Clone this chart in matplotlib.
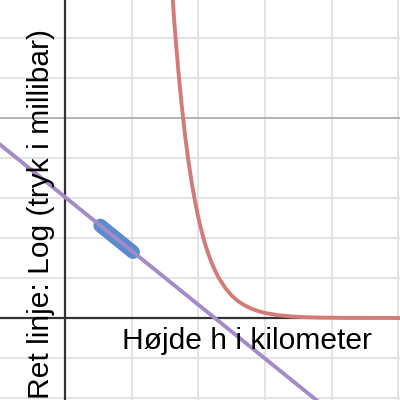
import matplotlib
matplotlib.use("Agg")
import matplotlib.pyplot as plt

# Red curve: pressure vs height
red_x = [1.60, 1.65, 1.70, 1.75, 1.80, 1.85, 1.90, 1.95, 2.00, 2.05, 2.10,
         2.15, 2.20, 2.25, 2.30, 2.40, 2.50, 2.60, 2.70, 2.80, 2.90, 3.00,
         3.20, 3.40, 3.60, 3.80, 4.20, 5.10]
red_y = [8.33, 7.17, 6.18, 5.32, 4.58, 3.94, 3.39, 2.92, 2.51, 2.16, 1.86,
         1.60, 1.38, 1.19, 1.02, 0.76, 0.56, 0.415, 0.31, 0.23, 0.17, 0.125,
         0.069, 0.038, 0.021, 0.011, 0.003, 0.0002]

# Purple straight line (log of pressure)
line_x = [-1.0, 4.0]
line_y = [4.37, -2.36]

# Blue highlighted segment on the line
seg_x = [0.53, 1.02]
seg_y = [2.31, 1.65]

x_label = "Højde h i kilometer"
y_label = "Ret linje: Log (tryk i millibar)"

fig = plt.figure(figsize=(4, 4), dpi=100)
ax = fig.add_axes([0, 0, 1, 1])
ax.set_xlim(-0.975, 5.025)
ax.set_ylim(-2.05, 7.95)
for s in ax.spines.values():
    s.set_visible(False)
ax.set_xticks([])
ax.set_yticks([])

grid_c = "#e2e2e2"
for gx in range(-1, 6):
    if gx != 0:
        ax.axvline(gx, color=grid_c, lw=1.3, zorder=0)
for gy in range(-2, 8):
    if gy not in (0, 5):
        ax.axhline(gy, color=grid_c, lw=1.3, zorder=0)
ax.axhline(5, color="#b3b3b3", lw=1.4, zorder=0.5)
ax.axhline(0, color="#333333", lw=1.6, zorder=1)
ax.axvline(0, color="#333333", lw=1.6, zorder=1)

ax.plot(seg_x, seg_y, color="#5a8ccc", lw=10, solid_capstyle="round", zorder=2)
ax.plot(line_x, line_y, color="#a28bc6", lw=2.8, zorder=3)
ax.plot(red_x, red_y, color="#d37b79", lw=2.8, zorder=3, solid_joinstyle="round")

ax.text(0.86, -0.58, x_label, fontsize=21.6, family="Liberation Sans",
        ha="left", va="center", color="black", zorder=4)
ax.text(-0.36, 2.61, y_label, fontsize=21.6, family="Liberation Sans",
        ha="center", va="center", rotation=90, color="black", zorder=4)

fig.savefig("out.png", dpi=100)
